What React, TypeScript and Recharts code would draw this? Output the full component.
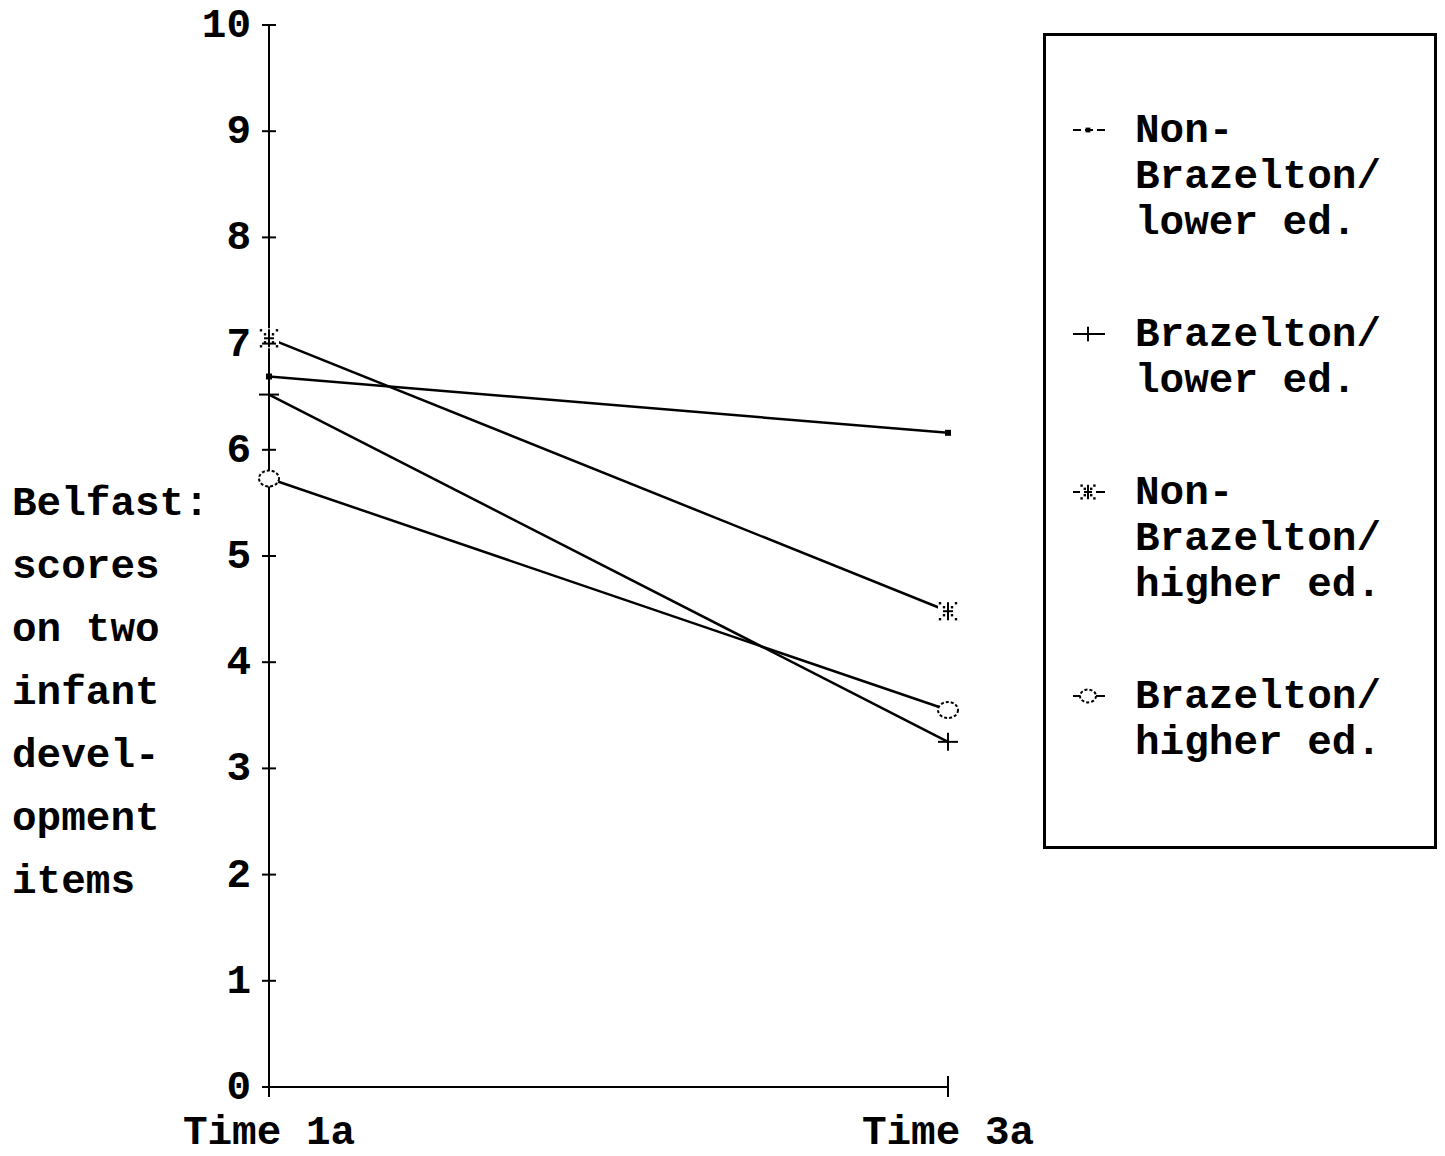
import React from 'react'
import { LineChart, Line, XAxis, YAxis, Legend } from 'recharts'

// values (score, 0-10)
const timePoints = ['Time 1a', 'Time 3a']
const nonBrazeltonLower = [6.69, 6.16]
const brazeltonLower = [6.52, 3.25]
const nonBrazeltonHigher = [7.05, 4.48]
const brazeltonHigher = [5.73, 3.55]

const yTicks = [0, 1, 2, 3, 4, 5, 6, 7, 8, 9, 10]
const yTitleLines = ['Belfast:', 'scores', 'on two', 'infant', 'devel-', 'opment', 'items']

type Shape = 'square' | 'plus' | 'star' | 'circle'

const SERIES: { key: string; values: number[]; shape: Shape; legend: string[] }[] = [
  { key: 'nbl', values: nonBrazeltonLower, shape: 'square', legend: ['Non-', 'Brazelton/', 'lower ed.'] },
  { key: 'bl', values: brazeltonLower, shape: 'plus', legend: ['Brazelton/', 'lower ed.'] },
  { key: 'nbh', values: nonBrazeltonHigher, shape: 'star', legend: ['Non-', 'Brazelton/', 'higher ed.'] },
  { key: 'bh', values: brazeltonHigher, shape: 'circle', legend: ['Brazelton/', 'higher ed.'] },
]

const chartData = timePoints.map((time, i) => {
  const row: Record<string, string | number> = { time }
  SERIES.forEach((s) => {
    row[s.key] = s.values[i]
  })
  return row
})

const FONT: React.CSSProperties = {
  fontFamily: '"Liberation Mono", "Courier New", monospace',
  fontWeight: 'bold',
  fontSize: 41,
  fill: '#000',
}

// dotted diagonal points of the asterisk marker
const STAR_DOTS = [
  [-4, -4], [4, -4], [-4, 4], [4, 4],
  [-8, -8], [8, -8], [-8, 8], [8, 8],
]

function Marker({ cx, cy, shape, s = 1 }: { cx: number; cy: number; shape: Shape; s?: number }) {
  if (shape === 'square') {
    return <rect x={cx - 3 * s} y={cy - 3 * s} width={6 * s} height={6 * s} fill="#000" />
  }
  if (shape === 'plus') {
    return (
      <g stroke="#000" strokeWidth={2}>
        <line x1={cx - 10 * s} x2={cx + 10 * s} y1={cy} y2={cy} />
        <line x1={cx} x2={cx} y1={cy - 9 * s} y2={cy + 9 * s} />
      </g>
    )
  }
  if (shape === 'star') {
    return (
      <g>
        <rect x={cx - 10 * s} y={cy - 10 * s} width={20 * s} height={20 * s} fill="#fff" />
        <line x1={cx - 5 * s} x2={cx + 5 * s} y1={cy} y2={cy} stroke="#000" strokeWidth={2} />
        <line x1={cx} x2={cx} y1={cy - 9 * s} y2={cy + 9 * s} stroke="#000" strokeWidth={2} />
        {STAR_DOTS.map(([dx, dy], i) => (
          <rect key={i} x={cx + dx * s - 1.2} y={cy + dy * s - 1.2} width={2.4} height={2.4} fill="#000" />
        ))}
      </g>
    )
  }
  return (
    <ellipse cx={cx} cy={cy} rx={10 * s} ry={8 * s} fill="#fff" stroke="#000" strokeWidth={2} strokeDasharray="3 2" />
  )
}

const YTick = ({ x, y, payload }: any) => (
  <g>
    <line x1={x - 7} x2={x + 7} y1={y} y2={y} stroke="#000" strokeWidth={2} />
    <text x={x - 18} y={y + 12} textAnchor="end" style={FONT}>
      {payload.value}
    </text>
  </g>
)

const XTick = ({ x, y, payload }: any) => (
  <g>
    <line x1={x} x2={x} y1={y - 11} y2={y + 10} stroke="#000" strokeWidth={2} />
    <text x={x} y={y + 57} textAnchor="middle" style={FONT}>
      {payload.value}
    </text>
  </g>
)

const renderYTitle = (props: any) => {
  const vx = props.viewBox?.x ?? 0
  return (
    <g>
      {yTitleLines.map((line, i) => (
        <text key={line} x={vx + 12} y={515 + i * 63} style={FONT}>
          {line}
        </text>
      ))}
    </g>
  )
}

const LegendBox = () => {
  let y = 109
  const entries = SERIES.map((s) => {
    const top = y
    y += (s.legend.length - 1) * 46 + 112
    return { ...s, top }
  })
  return (
    <svg width={394} height={816} style={{ display: 'block' }}>
      <rect x={1.5} y={1.5} width={391} height={813} fill="#fff" stroke="#000" strokeWidth={3} />
      {entries.map((e) => (
        <g key={e.key}>
          <line
            x1={30}
            x2={62}
            y1={e.top - 12}
            y2={e.top - 12}
            stroke="#000"
            strokeWidth={2}
            strokeDasharray={e.shape === 'square' ? '8 4' : undefined}
          />
          <Marker cx={45} cy={e.top - 12} shape={e.shape} s={0.8} />
          {e.legend.map((line, i) => (
            <text key={i} x={92} y={e.top + i * 46} style={FONT}>
              {line}
            </text>
          ))}
        </g>
      ))}
    </svg>
  )
}

export default function App() {
  return (
    <div style={{ position: 'absolute', left: 0, top: 0, background: '#fff' }}>
      <LineChart width={1445} height={1156} data={chartData} margin={{ top: 25, right: 497, left: 0, bottom: 0 }}>
        <XAxis
          dataKey="time"
          height={69}
          tickSize={0}
          tickMargin={0}
          tick={<XTick />}
          axisLine={{ stroke: '#000', strokeWidth: 2 }}
          interval={0}
        />
        <YAxis
          width={269}
          domain={[0, 10]}
          ticks={yTicks}
          interval={0}
          tickSize={0}
          tickMargin={0}
          tick={<YTick />}
          axisLine={{ stroke: '#000', strokeWidth: 2 }}
          label={{ content: renderYTitle }}
        />
        <Legend
          layout="horizontal"
          verticalAlign="middle"
          align="center"
          content={<LegendBox />}
          wrapperStyle={{ left: 1043, top: 33, right: 'auto', bottom: 'auto', width: 394, height: 816 }}
        />
        {SERIES.map((s) => (
          <Line
            key={s.key}
            dataKey={s.key}
            type="linear"
            stroke="#000"
            strokeWidth={2.5}
            isAnimationActive={false}
            dot={(p: any) => <Marker key={`${s.key}-${p.index}`} cx={p.cx} cy={p.cy} shape={s.shape} />}
            activeDot={false}
          />
        ))}
      </LineChart>
    </div>
  )
}
